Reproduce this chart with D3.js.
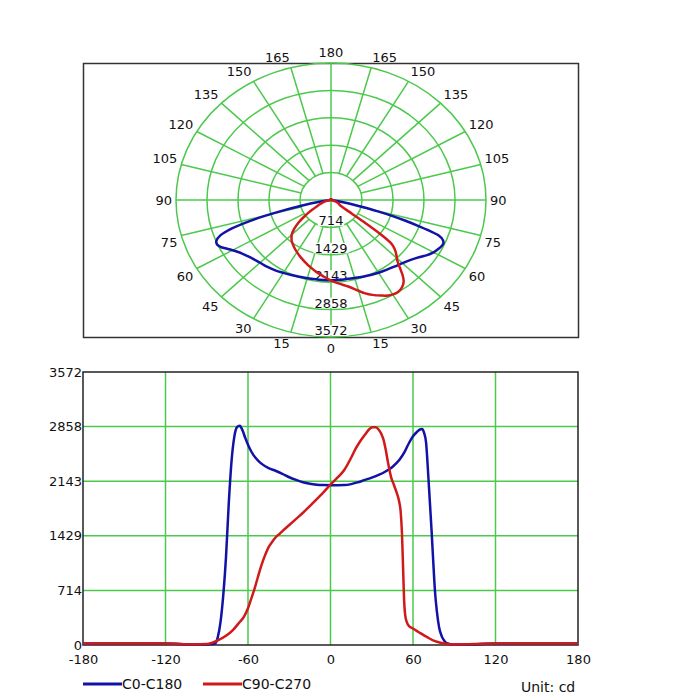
<!DOCTYPE html>
<html>
<head>
<meta charset="utf-8">
<style>
  body { margin: 0; background: #fff; }
  svg { display: block; font-family: "DejaVu Sans", Verdana, sans-serif; }
</style>
</head>
<body>
<svg width="700" height="700"></svg>
<script src="https://d3js.org/d3.v7.min.js"></script>
<script>

// C0-C180 plane (blue)
var c0Angles = [-180, -150, -120, -100, -90, -86, -84, -82, -80, -78, -76, -74, -72, -70, -68, -66, -64, -62, -60, -58, -56, -53, -50, -45, -40, -35, -30, -25, -20, -15, -10, -5, 0,
                5, 10, 15, 20, 25, 30, 35, 40, 45, 50, 54, 57, 60, 63, 65, 66.5, 68, 69.5, 70.5, 71.5, 72.5, 73.5, 74.7, 76, 77.3, 79, 81, 83, 85, 88, 100, 120, 150, 180];
var c0Values = [20, 20, 20, 8, 8, 12, 20, 100, 300, 650, 1150, 1850, 2400, 2720, 2850, 2870, 2810, 2710, 2620, 2545, 2485, 2420, 2370, 2315, 2280, 2240, 2195, 2160, 2130, 2110, 2098, 2092, 2090,
                2090, 2092, 2105, 2130, 2160, 2190, 2225, 2270, 2330, 2420, 2530, 2640, 2730, 2790, 2820, 2825, 2780, 2650, 2400, 2100, 1800, 1500, 1100, 700, 450, 230, 110, 50, 20, 8, 8, 20, 20, 20];

// C90-C270 plane (red)
var c90Angles = [-180, -150, -120, -100, -90, -86, -82, -76, -71, -67, -63, -60, -58, -55, -52.8, -51, -49, -47, -45, -42, -39.8, -37, -34.6, -30, -25, -20, -16, -10, -5, 0,
                 5, 10, 15, 18, 21, 25, 28, 30.5, 33, 35, 37, 38.5, 40, 42, 44, 46, 48, 50, 51, 52, 52.8, 53.5, 54.4, 55.5, 57, 60, 64, 68, 72, 76, 80, 84, 90, 120, 150, 180];
var c90Values = [20, 20, 20, 8, 12, 30, 60, 120, 195, 280, 369, 480, 586, 750, 890, 1000, 1107, 1200, 1280, 1360, 1410, 1455, 1497, 1570, 1650, 1730, 1801, 1910, 2000, 2100,
                 2190, 2290, 2450, 2560, 2650, 2750, 2820, 2850, 2850, 2820, 2760, 2690, 2570, 2370, 2200, 2100, 2000, 1870, 1750, 1450, 1000, 600, 380, 300, 250, 215, 170, 125, 85, 50, 30, 15, 8, 20, 20, 20];

var seriesNames = ["C0-C180", "C90-C270"];
var seriesColors = ["#1212a8", "#d01a1a"];
var ringValues = [714, 1429, 2143, 2858, 3572];
var angleTicks = [-180, -120, -60, 0, 60, 120, 180];
var polarLabels = [0, 15, 30, 45, 60, 75, 90, 105, 120, 135, 150, 165, 180];
var unitText = "Unit: cd";

var svg = d3.select("svg");
var green = "#4cc94c";
var ink = "#111";
var maxVal = 3572;

var c0 = c0Angles.map(function(a, i) { return {a: a, v: c0Values[i]}; });
var c90 = c90Angles.map(function(a, i) { return {a: a, v: c90Values[i]}; });
var series = [c0, c90];

// ---------- polar chart ----------
var cx = 331, cy = 200;
var rX = d3.scaleLinear().domain([0, maxVal]).range([0, 155]);
var rY = d3.scaleLinear().domain([0, maxVal]).range([0, 137]);
var rad = Math.PI / 180;

var polar = svg.append("g");

polar.append("rect")
    .attr("x", 83.5).attr("y", 63.5)
    .attr("width", 495).attr("height", 274)
    .attr("fill", "none")
    .attr("stroke", "#333")
    .attr("stroke-width", 1.5);

polar.selectAll(".ring")
    .data(ringValues)
    .enter().append("ellipse")
    .attr("cx", cx).attr("cy", cy)
    .attr("rx", function(d) { return rX(d); })
    .attr("ry", function(d) { return rY(d); })
    .attr("fill", "none")
    .attr("stroke", green)
    .attr("stroke-width", 1.5);

polar.selectAll(".spoke")
    .data(d3.range(0, 360, 15))
    .enter().append("line")
    .attr("x1", function(d) { return cx + (d % 90 === 0 ? 0 : rX(ringValues[0])) * Math.sin(d * rad); })
    .attr("y1", function(d) { return cy + (d % 90 === 0 ? 0 : rY(ringValues[0])) * Math.cos(d * rad); })
    .attr("x2", function(d) { return cx + rX(maxVal) * Math.sin(d * rad); })
    .attr("y2", function(d) { return cy + rY(maxVal) * Math.cos(d * rad); })
    .attr("stroke", green)
    .attr("stroke-width", 1.5);

// angle labels round the outside
var lblSet = [];
polarLabels.forEach(function(a) {
    if (a === 0 || a === 180) lblSet.push({a: a, s: 0});
    else { lblSet.push({a: a, s: -1}); lblSet.push({a: a, s: 1}); }
});
polar.selectAll(".alabel")
    .data(lblSet)
    .enter().append("text")
    .attr("x", function(d) { return cx + d.s * (rX(maxVal) + 4) * Math.sin(d.a * rad); })
    .attr("y", function(d) {
        var y = cy + (rY(maxVal) + 6) * Math.cos(d.a * rad);
        if (d.a < 90) return y + 9.5;
        if (d.a === 90) return y + 5;
        return y;
    })
    .attr("text-anchor", function(d) { return d.s === 0 ? "middle" : (d.s > 0 ? "start" : "end"); })
    .attr("font-size", 13)
    .attr("fill", ink)
    .text(function(d) { return d.a; });

// ring value labels with white backing
var rl = polar.selectAll(".rlabel")
    .data(ringValues)
    .enter().append("g")
    .attr("transform", function(d) { return "translate(" + cx + "," + (cy + rY(d) - 2) + ")"; });
rl.append("rect")
    .attr("x", function(d) { return -String(d).length * 4.4; })
    .attr("y", -10)
    .attr("width", function(d) { return String(d).length * 8.8; })
    .attr("height", 10.5)
    .attr("fill", "#fff");
rl.append("text")
    .attr("text-anchor", "middle")
    .attr("font-size", 13)
    .attr("fill", ink)
    .text(function(d) { return d; });

var polarLine = d3.line()
    .x(function(d) { return cx + rX(d.v) * Math.sin(d.a * rad); })
    .y(function(d) { return cy + rY(d.v) * Math.cos(d.a * rad); })
    .curve(d3.curveCatmullRom);

polar.selectAll(".pcurve")
    .data(series)
    .enter().append("path")
    .attr("d", polarLine)
    .attr("fill", "none")
    .attr("stroke", function(d, i) { return seriesColors[i]; })
    .attr("stroke-width", 2.5)
    .attr("stroke-linejoin", "round");

// ---------- cartesian chart ----------
var x = d3.scaleLinear().domain([-180, 180]).range([83, 578]);
var y = d3.scaleLinear().domain([0, maxVal]).range([645, 372]);

var cart = svg.append("g");

cart.selectAll(".vgrid")
    .data(angleTicks.slice(1, -1))
    .enter().append("line")
    .attr("x1", function(d) { return x(d); }).attr("x2", function(d) { return x(d); })
    .attr("y1", y(maxVal)).attr("y2", y(0))
    .attr("stroke", green).attr("stroke-width", 1.5);

cart.selectAll(".hgrid")
    .data(ringValues.slice(0, -1))
    .enter().append("line")
    .attr("y1", function(d) { return y(d); }).attr("y2", function(d) { return y(d); })
    .attr("x1", x(-180)).attr("x2", x(180))
    .attr("stroke", green).attr("stroke-width", 1.5);

cart.append("rect")
    .attr("x", x(-180)).attr("y", y(maxVal))
    .attr("width", x(180) - x(-180)).attr("height", y(0) - y(maxVal))
    .attr("fill", "none")
    .attr("stroke", "#222")
    .attr("stroke-width", 1.5);

var plain = function(d) { return String(d); };   // hyphen minus, like the original

var yAxis = cart.append("g")
    .attr("transform", "translate(" + x(-180) + ",0)")
    .call(d3.axisLeft(y).tickValues([0].concat(ringValues)).tickSize(0).tickPadding(1).tickFormat(plain));
yAxis.select(".domain").remove();

var xAxis = cart.append("g")
    .attr("transform", "translate(0," + y(0) + ")")
    .call(d3.axisBottom(x).tickValues(angleTicks).tickSize(0).tickPadding(10).tickFormat(plain));
xAxis.select(".domain").remove();

cart.selectAll(".tick text")
    .attr("font-family", "DejaVu Sans, Verdana, sans-serif")
    .attr("font-size", 13)
    .attr("fill", ink);

var cartLine = d3.line()
    .x(function(d) { return x(d.a); })
    .y(function(d) { return y(d.v); })
    .curve(d3.curveMonotoneX);

cart.selectAll(".ccurve")
    .data(series)
    .enter().append("path")
    .attr("d", cartLine)
    .attr("fill", "none")
    .attr("stroke", function(d, i) { return seriesColors[i]; })
    .attr("stroke-width", 2.5)
    .attr("stroke-linejoin", "round");

// ---------- legend ----------
var legendX = [83, 203];
var leg = svg.selectAll(".legend")
    .data(seriesNames)
    .enter().append("g")
    .attr("transform", function(d, i) { return "translate(" + legendX[i] + ",684)"; });
leg.append("line")
    .attr("x1", 0).attr("x2", 39)
    .attr("stroke", function(d, i) { return seriesColors[i]; })
    .attr("stroke-width", 3);
leg.append("text")
    .attr("x", 39).attr("y", 5)
    .attr("font-size", 14)
    .attr("fill", ink)
    .text(function(d) { return d; });

svg.append("text")
    .attr("x", 521).attr("y", 692)
    .attr("font-size", 14)
    .attr("fill", ink)
    .text(unitText);

</script>
</body>
</html>
